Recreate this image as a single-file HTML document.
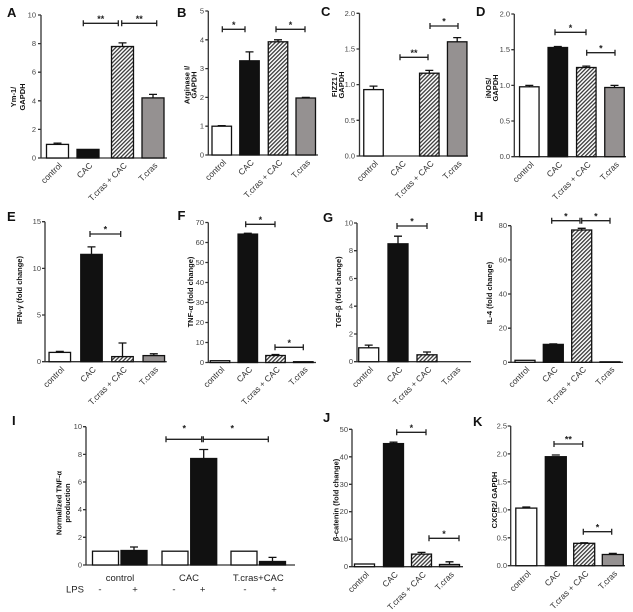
<!DOCTYPE html>
<html><head><meta charset="utf-8"><style>
html,body{margin:0;padding:0;background:#fff;}
svg{display:block;font-family:"Liberation Sans",Arial,sans-serif;}
.ax{stroke:#333;stroke-width:1.3;fill:none}
.b{stroke:#111;stroke-width:1.3}
.e{stroke:#111;stroke-width:1.3;fill:none}
.s{stroke:#222;stroke-width:1.3;fill:none}
.tl{font-size:7.5px;fill:#444;text-anchor:end}
.xl{font-size:8.5px;fill:#333;text-anchor:end}
.yt{font-size:7.5px;font-weight:bold;fill:#111;text-anchor:middle}
.lt{font-size:13px;font-weight:bold;fill:#111}
.st{font-size:9px;font-weight:bold;fill:#222;text-anchor:middle}
.gl{font-size:9.5px;fill:#222;text-anchor:middle}
</style></head><body>
<svg width="633" height="612" viewBox="0 0 633 612" xmlns="http://www.w3.org/2000/svg">
<defs>
<pattern id="h" width="2.8" height="2.8" patternUnits="userSpaceOnUse" patternTransform="rotate(45)">
<rect width="2.8" height="2.8" fill="#fff"/><line x1="0.65" y1="0" x2="0.65" y2="2.8" stroke="#3a3a3a" stroke-width="1.3"/>
</pattern>
</defs>
<rect width="633" height="612" fill="#fff"/>

<!-- Panel A -->
<text class="lt" x="7" y="17">A</text>
<text class="yt" transform="translate(16,97) rotate(-90)">Ym-1/</text>
<text class="yt" transform="translate(25,97) rotate(-90)">GAPDH</text>
<path class="ax" d="M41 15V158H167M38 158H41M38 129.4H41M38 100.8H41M38 72.2H41M38 43.6H41M38 15H41"/>
<text class="tl" x="36" y="160.5">0</text><text class="tl" x="36" y="131.9">2</text><text class="tl" x="36" y="103.3">4</text><text class="tl" x="36" y="74.7">6</text><text class="tl" x="36" y="46.1">8</text><text class="tl" x="36" y="17.5">10</text>
<rect class="b" x="46.5" y="144.4" width="22" height="13.6" fill="#fff"/>
<rect class="b" x="77" y="149.4" width="22" height="8.6" fill="#111"/>
<rect class="b" x="111.5" y="46.5" width="22" height="111.5" fill="url(#h)"/>
<rect class="b" x="142" y="97.9" width="22" height="60.1" fill="#959191"/>
<path class="e" d="M57.5 144.4V143.2M53.5 143.2H61.5M122.5 46.5V42.9M118.5 42.9H126.5M153 97.9V94.4M149 94.4H157"/>
<path class="s" d="M83.3 23.3H118.3M83.3 20.3V26.3M118.3 20.3V26.3M121.7 23.3H156.7M121.7 20.3V26.3M156.7 20.3V26.3"/>
<text class="st" x="100.8" y="22">**</text><text class="st" x="139.2" y="22">**</text>
<text class="xl" transform="translate(62.5,166) rotate(-45)">control</text>
<text class="xl" transform="translate(93,166) rotate(-45)">CAC</text>
<text class="xl" transform="translate(127.5,166) rotate(-45)">T.cras + CAC</text>
<text class="xl" transform="translate(158,166) rotate(-45)">T.cras</text>

<!-- Panel B -->
<text class="lt" x="177" y="17">B</text>
<text class="yt" transform="translate(189.5,85) rotate(-90)">Arginase I/</text>
<text class="yt" transform="translate(196.5,85) rotate(-90)">GAPDH</text>
<path class="ax" d="M208.3 11V155H318M205.3 155H208.3M205.3 126.2H208.3M205.3 97.4H208.3M205.3 68.6H208.3M205.3 39.8H208.3M205.3 11H208.3"/>
<text class="tl" x="204" y="157.5">0</text><text class="tl" x="204" y="128.7">1</text><text class="tl" x="204" y="99.9">2</text><text class="tl" x="204" y="71.1">3</text><text class="tl" x="204" y="42.3">4</text><text class="tl" x="204" y="13.5">5</text>
<rect class="b" x="212" y="126.2" width="19.5" height="28.8" fill="#fff"/>
<rect class="b" x="239.75" y="60.8" width="19.5" height="94.2" fill="#111"/>
<rect class="b" x="268.25" y="41.8" width="19.5" height="113.2" fill="url(#h)"/>
<rect class="b" x="296" y="98" width="19.5" height="57" fill="#959191"/>
<path class="e" d="M217.7 125.6H225.7M249.5 60.8V51.9M245.5 51.9H253.5M278 41.8V39.8M274 39.8H282M301.8 97.4H309.8"/>
<path class="s" d="M222.3 29.3H245M222.3 26.3V32.3M245 26.3V32.3M276 29.3H305M276 26.3V32.3M305 26.3V32.3"/>
<text class="st" x="233.7" y="28">*</text><text class="st" x="290.5" y="28">*</text>
<text class="xl" transform="translate(226.7,163) rotate(-45)">control</text>
<text class="xl" transform="translate(254.5,163) rotate(-45)">CAC</text>
<text class="xl" transform="translate(283,163) rotate(-45)">T.cras + CAC</text>
<text class="xl" transform="translate(310.8,163) rotate(-45)">T.cras</text>

<!-- Panel C -->
<text class="lt" x="321" y="16">C</text>
<text class="yt" transform="translate(337,85) rotate(-90)">FIZZ1 /</text>
<text class="yt" transform="translate(344,85) rotate(-90)">GAPDH</text>
<path class="ax" d="M359.5 13.3V156H468M356.5 156H359.5M356.5 120.3H359.5M356.5 84.65H359.5M356.5 49H359.5M356.5 13.3H359.5"/>
<text class="tl" x="355" y="158.5">0.0</text><text class="tl" x="355" y="122.8">0.5</text><text class="tl" x="355" y="87.2">1.0</text><text class="tl" x="355" y="51.5">1.5</text><text class="tl" x="355" y="15.8">2.0</text>
<rect class="b" x="363.75" y="89.6" width="19.5" height="66.4" fill="#fff"/>
<rect class="b" x="419.55" y="73.2" width="19.5" height="82.8" fill="url(#h)"/>
<rect class="b" x="447.45" y="41.8" width="19.5" height="114.2" fill="#959191"/>
<path class="e" d="M373.5 89.6V86.1M369.5 86.1H377.5M429.3 73.2V70.4M425.3 70.4H433.3M457.2 41.8V37.6M453.2 37.6H461.2"/>
<path class="s" d="M400 57.3H428M400 54.3V60.3M428 54.3V60.3M430 26H458M430 23V29M458 23V29"/>
<text class="st" x="414" y="56">**</text><text class="st" x="444" y="24.7">*</text>
<text class="xl" transform="translate(378.5,164) rotate(-45)">control</text>
<text class="xl" transform="translate(406.5,164) rotate(-45)">CAC</text>
<text class="xl" transform="translate(434.3,164) rotate(-45)">T.cras + CAC</text>
<text class="xl" transform="translate(462.2,164) rotate(-45)">T.cras</text>

<!-- Panel D -->
<text class="lt" x="476" y="16">D</text>
<text class="yt" transform="translate(491,88) rotate(-90)">iNOS/</text>
<text class="yt" transform="translate(498,88) rotate(-90)">GAPDH</text>
<path class="ax" d="M514.3 14V156.7H626M511.3 156.7H514.3M511.3 121H514.3M511.3 85.35H514.3M511.3 49.7H514.3M511.3 14H514.3"/>
<text class="tl" x="510" y="159.2">0.0</text><text class="tl" x="510" y="123.5">0.5</text><text class="tl" x="510" y="87.9">1.0</text><text class="tl" x="510" y="52.2">1.5</text><text class="tl" x="510" y="16.5">2.0</text>
<rect class="b" x="519.55" y="86.8" width="19.5" height="69.9" fill="#fff"/>
<rect class="b" x="548.05" y="47.5" width="19.5" height="109.2" fill="#111"/>
<rect class="b" x="576.55" y="67.5" width="19.5" height="89.2" fill="url(#h)"/>
<rect class="b" x="604.75" y="87.5" width="19.5" height="69.2" fill="#959191"/>
<path class="e" d="M529.3 86.8V85.35M525.3 85.35H533.3M553.8 46.5H561.8M586.3 67.5V66.1M582.3 66.1H590.3M614.5 87.5V85.35M610.5 85.35H618.5"/>
<path class="s" d="M555 32.3H586M555 29.3V35.3M586 29.3V35.3M586.7 52.7H615M586.7 49.7V55.7M615 49.7V55.7"/>
<text class="st" x="570.5" y="31">*</text><text class="st" x="600.9" y="51.4">*</text>
<text class="xl" transform="translate(534.3,165) rotate(-45)">control</text>
<text class="xl" transform="translate(562.8,165) rotate(-45)">CAC</text>
<text class="xl" transform="translate(591.3,165) rotate(-45)">T.cras + CAC</text>
<text class="xl" transform="translate(619.5,165) rotate(-45)">T.cras</text>

<!-- Panel E -->
<text class="lt" x="7" y="221">E</text>
<text class="yt" transform="translate(22,290) rotate(-90)">IFN-γ (fold change)</text>
<path class="ax" d="M45 221.7V361.7H166.7M42 361.7H45M42 315H45M42 268.4H45M42 221.7H45"/>
<text class="tl" x="41" y="364.2">0</text><text class="tl" x="41" y="317.5">5</text><text class="tl" x="41" y="270.9">10</text><text class="tl" x="41" y="224.2">15</text>
<rect class="b" x="49.05" y="352.4" width="21.5" height="9.3" fill="#fff"/>
<rect class="b" x="80.75" y="254.4" width="21.5" height="107.3" fill="#111"/>
<rect class="b" x="111.75" y="356.6" width="21.5" height="5.1" fill="url(#h)"/>
<rect class="b" x="143.05" y="355.6" width="21.5" height="6.1" fill="#959191"/>
<path class="e" d="M59.8 352.4V351.4M55.8 351.4H63.8M91.5 254.4V246.9M87.5 246.9H95.5M122.5 356.6V343M118.5 343H126.5M153.8 355.6V353.8M149.8 353.8H157.8"/>
<path class="s" d="M90 234H120.7M90 231V237M120.7 231V237"/>
<text class="st" x="105.4" y="232.7">*</text>
<text class="xl" transform="translate(64.8,370) rotate(-45)">control</text>
<text class="xl" transform="translate(96.5,370) rotate(-45)">CAC</text>
<text class="xl" transform="translate(127.5,370) rotate(-45)">T.cras + CAC</text>
<text class="xl" transform="translate(158.8,370) rotate(-45)">T.cras</text>

<!-- Panel F -->
<text class="lt" x="177.5" y="220">F</text>
<text class="yt" transform="translate(193,292) rotate(-90)">TNF-α (fold change)</text>
<path class="ax" d="M208.3 222.5V362.5H316M205.3 362.5H208.3M205.3 342.5H208.3M205.3 322.5H208.3M205.3 302.5H208.3M205.3 282.5H208.3M205.3 262.5H208.3M205.3 242.5H208.3M205.3 222.5H208.3"/>
<text class="tl" x="204" y="365">0</text><text class="tl" x="204" y="345">10</text><text class="tl" x="204" y="325">20</text><text class="tl" x="204" y="305">30</text><text class="tl" x="204" y="285">40</text><text class="tl" x="204" y="265">50</text><text class="tl" x="204" y="245">60</text><text class="tl" x="204" y="225">70</text>
<rect class="b" x="210.25" y="360.7" width="19.5" height="1.8" fill="#fff"/>
<rect class="b" x="238.05" y="234.1" width="19.5" height="128.4" fill="#111"/>
<rect class="b" x="265.75" y="355.5" width="19.5" height="7" fill="url(#h)"/>
<rect class="b" x="293.55" y="361.7" width="19.5" height="0.8" fill="#959191"/>
<path class="e" d="M243.8 233.3H251.8M275.5 355.5V354.5M271.5 354.5H279.5"/>
<path class="s" d="M245.7 224.3H275M245.7 221.3V227.3M275 221.3V227.3M275 347.3H303.3M275 344.3V350.3M303.3 344.3V350.3"/>
<text class="st" x="260.4" y="223">*</text><text class="st" x="289.2" y="346">*</text>
<text class="xl" transform="translate(225,370) rotate(-45)">control</text>
<text class="xl" transform="translate(252.8,370) rotate(-45)">CAC</text>
<text class="xl" transform="translate(280.5,370) rotate(-45)">T.cras + CAC</text>
<text class="xl" transform="translate(308.3,370) rotate(-45)">T.cras</text>

<!-- Panel G -->
<text class="lt" x="323" y="222">G</text>
<text class="yt" transform="translate(341,292) rotate(-90)">TGF-β (fold change)</text>
<path class="ax" d="M357 223V361.7H471M354 361.7H357M354 334H357M354 306.2H357M354 278.5H357M354 250.7H357M354 223H357"/>
<text class="tl" x="353" y="364.2">0</text><text class="tl" x="353" y="336.5">2</text><text class="tl" x="353" y="308.7">4</text><text class="tl" x="353" y="281">6</text><text class="tl" x="353" y="253.2">8</text><text class="tl" x="353" y="225.5">10</text>
<rect class="b" x="358.7" y="347.8" width="20" height="13.9" fill="#fff"/>
<rect class="b" x="388" y="243.8" width="20" height="117.9" fill="#111"/>
<rect class="b" x="417" y="354.8" width="20" height="6.9" fill="url(#h)"/>
<path class="e" d="M368.7 347.8V345.1M364.7 345.1H372.7M398 243.8V236.2M394 236.2H402M427 354.8V352M423 352H431"/>
<path class="s" d="M397 226H427M397 223V229M427 223V229"/>
<text class="st" x="412" y="224.7">*</text>
<text class="xl" transform="translate(373.7,370) rotate(-45)">control</text>
<text class="xl" transform="translate(403,370) rotate(-45)">CAC</text>
<text class="xl" transform="translate(432,370) rotate(-45)">T.cras + CAC</text>
<text class="xl" transform="translate(461,370) rotate(-45)">T.cras</text>

<!-- Panel H -->
<text class="lt" x="474" y="221">H</text>
<text class="yt" transform="translate(492,293) rotate(-90)">IL-4 (fold change)</text>
<path class="ax" d="M511 225.7V362.3H623M508 362.3H511M508 328.2H511M508 294H511M508 259.9H511M508 225.7H511"/>
<text class="tl" x="507" y="364.8">0</text><text class="tl" x="507" y="330.7">20</text><text class="tl" x="507" y="296.5">40</text><text class="tl" x="507" y="262.4">60</text><text class="tl" x="507" y="228.2">80</text>
<rect class="b" x="515" y="360.3" width="20" height="2" fill="#fff"/>
<rect class="b" x="543.3" y="344.4" width="20" height="17.9" fill="#111"/>
<rect class="b" x="571.7" y="230" width="20" height="132.3" fill="url(#h)"/>
<rect class="b" x="600" y="361.8" width="20" height="0.5" fill="#959191"/>
<path class="e" d="M549.3 343.9H557.3M581.7 230V228.3M577.7 228.3H585.7"/>
<path class="s" d="M551.7 220.7H580M551.7 217.7V223.7M580 217.7V223.7M581.7 220.7H610M581.7 217.7V223.7M610 217.7V223.7"/>
<text class="st" x="565.9" y="219.4">*</text><text class="st" x="595.9" y="219.4">*</text>
<text class="xl" transform="translate(530,370) rotate(-45)">control</text>
<text class="xl" transform="translate(558.3,370) rotate(-45)">CAC</text>
<text class="xl" transform="translate(586.7,370) rotate(-45)">T.cras + CAC</text>
<text class="xl" transform="translate(615,370) rotate(-45)">T.cras</text>

<!-- Panel I -->
<text class="lt" x="12" y="425">I</text>
<text class="yt" transform="translate(61.5,503) rotate(-90)">Normalized TNF-α</text>
<text class="yt" transform="translate(70,503) rotate(-90)">production</text>
<path class="ax" d="M86 426.7V565H295M83 565H86M83 537.3H86M83 509.7H86M83 482H86M83 454.4H86M83 426.7H86"/>
<text class="tl" x="82" y="567.5">0</text><text class="tl" x="82" y="539.8">2</text><text class="tl" x="82" y="512.2">4</text><text class="tl" x="82" y="484.5">6</text><text class="tl" x="82" y="456.9">8</text><text class="tl" x="82" y="429.2">10</text>
<rect class="b" x="92.5" y="551.2" width="26" height="13.8" fill="#fff"/>
<rect class="b" x="121" y="550.5" width="26" height="14.5" fill="#111"/>
<rect class="b" x="162" y="551.2" width="26" height="13.8" fill="#fff"/>
<rect class="b" x="190.7" y="458.5" width="26" height="106.5" fill="#111"/>
<rect class="b" x="231" y="551.2" width="26" height="13.8" fill="#fff"/>
<rect class="b" x="259.5" y="561.5" width="26" height="3.5" fill="#111"/>
<path class="e" d="M134 550.5V547M130 547H138M203.7 458.5V449.5M199.2 449.5H208.2M272.5 561.5V557.4M268.5 557.4H276.5"/>
<path class="s" d="M166 439.3H201.7M166 436.3V442.3M201.7 436.3V442.3M203.3 439.3H268.3M203.3 436.3V442.3M268.3 436.3V442.3"/>
<text class="st" x="184.3" y="431.5">*</text><text class="st" x="232.3" y="431.5">*</text>
<text class="gl" x="120" y="581">control</text>
<text class="gl" x="189" y="581">CAC</text>
<text class="gl" x="258.3" y="581">T.cras+CAC</text>
<text class="gl" x="75" y="592.5">LPS</text>
<text class="gl" x="100" y="592.5">-</text><text class="gl" x="135" y="592.5">+</text>
<text class="gl" x="174" y="592.5">-</text><text class="gl" x="202.7" y="592.5">+</text>
<text class="gl" x="245" y="592.5">-</text><text class="gl" x="274" y="592.5">+</text>

<!-- Panel J -->
<text class="lt" x="323" y="422">J</text>
<text class="yt" transform="translate(338.5,500) rotate(-90)">β-catenin (fold change)</text>
<path class="ax" d="M352 429.3V566.7H463M349 566.7H352M349 539.2H352M349 511.7H352M349 484.3H352M349 456.8H352M349 429.3H352"/>
<text class="tl" x="348" y="569.2">0</text><text class="tl" x="348" y="541.7">10</text><text class="tl" x="348" y="514.2">20</text><text class="tl" x="348" y="486.8">30</text><text class="tl" x="348" y="459.3">40</text><text class="tl" x="348" y="431.8">50</text>
<rect class="b" x="354.5" y="564" width="20" height="2.7" fill="#fff"/>
<rect class="b" x="383.5" y="443.6" width="20" height="123.1" fill="#111"/>
<rect class="b" x="411.5" y="554.1" width="20" height="12.6" fill="url(#h)"/>
<rect class="b" x="439.5" y="564.5" width="20" height="2.2" fill="#959191"/>
<path class="e" d="M393.5 443.6V442.2M389.5 442.2H397.5M421.5 554.1V552.4M417.5 552.4H425.5M449.5 564.5V561.8M445.5 561.8H453.5"/>
<path class="s" d="M396.7 432.3H426M396.7 429.3V435.3M426 429.3V435.3M429 538.3H459M429 535.3V541.3M459 535.3V541.3"/>
<text class="st" x="411.4" y="431">*</text><text class="st" x="444" y="537">*</text>
<text class="xl" transform="translate(369.5,575) rotate(-45)">control</text>
<text class="xl" transform="translate(398.5,575) rotate(-45)">CAC</text>
<text class="xl" transform="translate(426.5,575) rotate(-45)">T.cras + CAC</text>
<text class="xl" transform="translate(454.5,575) rotate(-45)">T.cras</text>

<!-- Panel K -->
<text class="lt" x="473" y="426">K</text>
<text class="yt" transform="translate(497,500) rotate(-90)">CXCR2/ GAPDH</text>
<path class="ax" d="M510.7 426V565.7H625M507.7 565.7H510.7M507.7 537.8H510.7M507.7 509.8H510.7M507.7 481.9H510.7M507.7 453.9H510.7M507.7 426H510.7"/>
<text class="tl" x="507" y="568.2">0.0</text><text class="tl" x="507" y="540.3">0.5</text><text class="tl" x="507" y="512.3">1.0</text><text class="tl" x="507" y="484.4">1.5</text><text class="tl" x="507" y="456.4">2.0</text><text class="tl" x="507" y="428.5">2.5</text>
<rect class="b" x="515.8" y="508.1" width="21" height="57.6" fill="#fff"/>
<rect class="b" x="545.3" y="456.7" width="21" height="109" fill="#111"/>
<rect class="b" x="573.7" y="543.3" width="21" height="22.4" fill="url(#h)"/>
<rect class="b" x="602.3" y="554.5" width="21" height="11.2" fill="#959191"/>
<path class="e" d="M526.3 508.1V507M522.3 507H530.3M551.8 455H559.8M580.2 542.8H588.2M612.8 554.5V553.4M608.8 553.4H616.8"/>
<path class="s" d="M554 444H582.7M554 441V447M582.7 441V447M583.3 531.7H611.7M583.3 528.7V534.7M611.7 528.7V534.7"/>
<text class="st" x="568.4" y="442.7">**</text><text class="st" x="597.5" y="530.4">*</text>
<text class="xl" transform="translate(531.3,574) rotate(-45)">control</text>
<text class="xl" transform="translate(560.8,574) rotate(-45)">CAC</text>
<text class="xl" transform="translate(589.2,574) rotate(-45)">T.cras + CAC</text>
<text class="xl" transform="translate(617.8,574) rotate(-45)">T.cras</text>
</svg>
</body></html>
